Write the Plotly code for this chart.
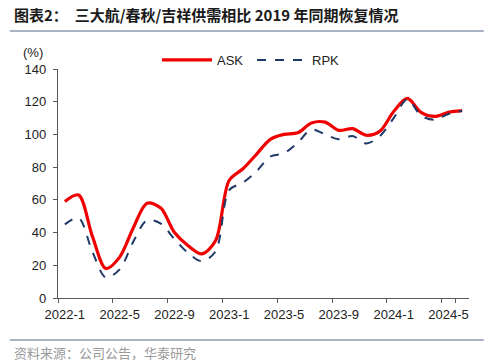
import plotly.graph_objects as go

months = ["2022-1","2022-2","2022-3","2022-4","2022-5","2022-6","2022-7","2022-8","2022-9","2022-10","2022-11","2022-12",
          "2023-1","2023-2","2023-3","2023-4","2023-5","2023-6","2023-7","2023-8","2023-9","2023-10","2023-11","2023-12",
          "2024-1","2024-2","2024-3","2024-4","2024-5","2024-6"]
ask = [59, 63, 38, 18, 25, 43, 58, 55, 40, 32, 27, 35,
       72, 79, 88, 97, 100, 101, 107, 107.5, 102.5, 103.5, 99.5, 102,
       114, 122, 113.5, 111, 113.5, 114.5]
rpk = [45, 49, 28.5, 12.5, 17.5, 34.5, 47.5, 45.5, 36, 27.5, 22.5, 28.5,
       66, 70.5, 77.5, 86.5, 88.5, 95, 103, 100, 97, 99, 94.5, 99,
       110, 121.5, 111.5, 109, 112.5, 114.5]
ytick_vals = [0, 20, 40, 60, 80, 100, 120, 140]

title_text = "<b>图表2：  三大航/春秋/吉祥供需相比 2019 年同期恢复情况</b>"
source_text = "资料来源：公司公告，华泰研究"

fig = go.Figure()
fig.add_trace(go.Scatter(x=months, y=ask, name="ASK", mode="lines",
                         line=dict(color="#F00000", width=3.2, shape="spline", smoothing=0.9)))
fig.add_trace(go.Scatter(x=months, y=rpk, name="RPK", mode="lines",
                         line=dict(color="#1F3A68", width=2, dash="dash", shape="spline", smoothing=0.9)))

fig.update_layout(
    width=499, height=363,
    margin=dict(l=58, r=30, t=69, b=65, autoexpand=False),
    paper_bgcolor="white", plot_bgcolor="white",
    font=dict(family="Liberation Sans, Arial", size=13, color="#222"),
    showlegend=True,
    legend=dict(orientation="h", xref="container", yref="container",
                x=157/499, y=1 - 60/363, xanchor="left", yanchor="middle",
                font=dict(size=13, color="#222"), bgcolor="rgba(0,0,0,0)",
                itemwidth=50, entrywidth=30, tracegroupgap=0),
    xaxis=dict(type="category", categoryorder="array", categoryarray=months,
               range=[-0.5, 29.5], tickmode="array",
               tickvals=months[::4], ticktext=months[::4], tickangle=0,
               tickson="boundaries", ticks="outside", ticklen=4, tickcolor="#595959",
               ticklabelstandoff=4,
               showline=True, linecolor="#595959", linewidth=1.2, automargin=False,
               showgrid=False, zeroline=False, tickfont=dict(size=13)),
    yaxis=dict(range=[0, 140], tickmode="array", tickvals=ytick_vals,
               ticks="outside", ticklen=4, tickcolor="#595959", automargin=False,
               ticklabelstandoff=4,
               showline=True, linecolor="#595959", linewidth=1.2,
               showgrid=False, zeroline=False, tickfont=dict(size=13)),
)

fig.add_annotation(text="(%)", xref="paper", yref="paper", x=-0.061, y=1.074,
                   xanchor="center", yanchor="middle", showarrow=False, font=dict(size=13, color="#222"))
fig.add_annotation(text=title_text, xref="paper", yref="paper", x=-0.112, y=1.236,
                   xanchor="left", yanchor="middle", showarrow=False,
                   font=dict(family="Noto Sans CJK SC", size=15, color="#1a1a1a"))
fig.add_annotation(text=source_text, xref="paper", yref="paper", x=-0.112, y=-0.24,
                   xanchor="left", yanchor="middle", showarrow=False,
                   font=dict(family="Noto Sans CJK SC", size=13, color="#9a9a9a"))
fig.add_shape(type="line", xref="paper", yref="paper", x0=-0.117, x1=1.036, y0=1.166, y1=1.166,
              line=dict(color="#A8B3C6", width=2))
fig.add_shape(type="line", xref="paper", yref="paper", x0=-0.117, x1=1.036, y0=-0.183, y1=-0.183,
              line=dict(color="#A8B3C6", width=2))

fig.write_html("out.html", config={"displayModeBar": False},
               post_script="document.body.style.margin='0';")
